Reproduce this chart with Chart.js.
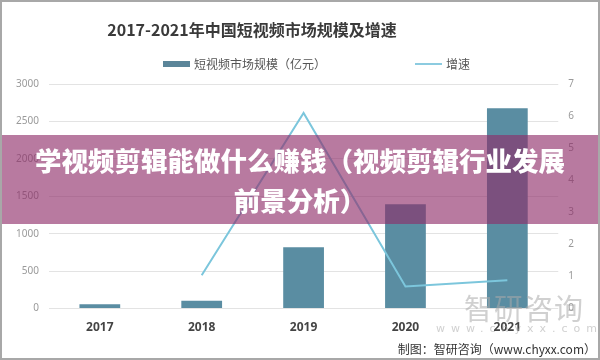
<!DOCTYPE html>
<html lang="zh">
<head>
    <meta charset="UTF-8">
    <title>2017-2021年中国短视频市场规模及增速</title>
    <script src="https://cdn.jsdelivr.net/npm/chart.js"></script>
    <style>
        body {
            margin: 0;
            padding: 0;
            background: #fff;
        }

        .frame {
            position: relative;
            width: 600px;
            height: 360px;
            box-sizing: border-box;
            border: 2px solid #a8a8a8;
            overflow: hidden;
            font-family: 'Noto Sans CJK SC', sans-serif;
        }

        #chart {
            position: absolute;
            left: -2px;
            top: -2px;
        }

        .title {
            position: absolute;
            left: 0;
            width: 500px;
            top: 15px;
            text-align: center;
            font-size: 16px;
            font-weight: bold;
            color: #3a3a3a;
        }

        .legend {
            position: absolute;
            top: 53px;
            font-size: 12px;
            color: #555;
            display: flex;
            align-items: center;
        }
        .legend .sw {
            display: inline-block;
            width: 27px;
            margin-right: 4px;
        }

        /* purple banner over the chart */
        .banner {
            position: absolute;
            left: 0;
            right: 0;
            top: 133px;
            height: 89px;
            background: rgba(143, 44, 105, 0.63);
            color: #fff;
            font-weight: 900;
            font-size: 26.5px;
            line-height: 40px;
            text-align: center;
            padding-top: 5px;
            box-sizing: border-box;
        }

        .watermark {
            position: absolute;
            left: 462px;
            top: 284px;
            font-size: 29px;
            color: rgba(170, 170, 170, 0.55);
            letter-spacing: 1px;
        }
        .watermark small {
            display: block;
            font-family: 'DejaVu Sans', sans-serif;
            font-size: 11px;
            letter-spacing: 6px;
            margin-top: -6px;
            margin-left: -28px;
        }

        .source {
            position: absolute;
            right: 2px;
            top: 338px;
            font-size: 12px;
            color: #333;
        }
    </style>
</head>
<body>
<div class="frame">
    <canvas id="chart" width="600" height="360"></canvas>
    <div class="title">2017-2021年中国短视频市场规模及增速</div>
    <div class="legend" style="left:161px"><span class="sw" style="height:6px;background:#5b8599"></span>短视频市场规模（亿元）</div>
    <div class="legend" style="left:413px"><span class="sw" style="height:2px;background:#8ccbe0"></span>增速</div>
    <div class="watermark">智研咨询<small>www.chyxx.com</small></div>
    <div class="banner">学视频剪辑能做什么赚钱（视频剪辑行业发展<br>前景分析）</div>
    <div class="source">制图：智研咨询（www.chyxx.com）</div>
</div>

<script>
    const years = ['2017', '2018', '2019', '2020', '2021'];
    const marketSize = [58, 104, 820, 1395, 2675];   // 亿元
    const growth = [null, 1.04, 6.1, 0.69, 0.88];
    const leftTicks = [0, 500, 1000, 1500, 2000, 2500, 3000];
    const rightTicks = [0, 1, 2, 3, 4, 5, 6, 7];

    new Chart(document.getElementById('chart').getContext('2d'), {
        type: 'bar',
        data: {
            labels: years,
            datasets: [
                {
                    type: 'line',
                    label: '增速',
                    data: growth,
                    yAxisID: 'y1',
                    borderColor: '#7cc6dc',
                    borderWidth: 2,
                    pointRadius: 0,
                    tension: 0,
                    order: 0
                },
                {
                    label: '短视频市场规模（亿元）',
                    data: marketSize,
                    yAxisID: 'y',
                    backgroundColor: '#5a8da2',
                    barPercentage: 0.8,
                    categoryPercentage: 0.5,
                    order: 1
                }
            ]
        },
        options: {
            responsive: false,
            animation: false,
            layout: { padding: { left: 6, right: 16, top: 84, bottom: 21 } },
            plugins: {
                legend: { display: false },
                title: { display: false },
                tooltip: { enabled: false }
            },
            scales: {
                x: {
                    grid: { display: false },
                    border: { display: false },
                    ticks: {
                        padding: 4,
                        color: '#444',
                        font: { family: 'Noto Sans', size: 12, weight: 'bold' }
                    }
                },
                y: {
                    position: 'left',
                    min: 0,
                    max: 3000,
                    afterBuildTicks: axis => { axis.ticks = leftTicks.map(v => ({ value: v })); },
                    grid: { color: '#e3e3e3', drawTicks: false },
                    border: { display: false },
                    ticks: {
                        padding: 10,
                        color: '#9a9a9a',
                        font: { family: 'Noto Sans', size: 10 },
                        callback: v => String(v)
                    }
                },
                y1: {
                    position: 'right',
                    min: 0,
                    max: 7,
                    afterBuildTicks: axis => { axis.ticks = rightTicks.map(v => ({ value: v })); },
                    grid: { display: false, drawTicks: false },
                    border: { display: false },
                    ticks: {
                        padding: 10,
                        color: '#9a9a9a',
                        font: { family: 'Noto Sans', size: 10 },
                        callback: v => String(v)
                    }
                }
            }
        }
    });
</script>
</body>
</html>
